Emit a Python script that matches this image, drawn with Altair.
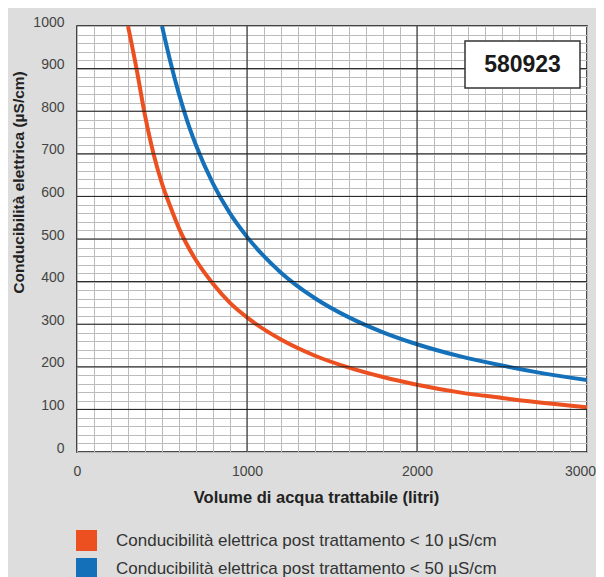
import altair as alt
import pandas as pd

# ---- data ----
vol_orange = [300, 350, 400, 450, 500, 550, 600, 700, 800, 900, 1000, 1200, 1400,
              1600, 1800, 2000, 2250, 2500, 2750, 3000]
cond_orange = [1000, 900, 790, 700, 630, 575, 525, 450, 395, 350, 316, 264, 226,
               198, 176, 158, 140, 127, 115, 105]
vol_blue = [500, 550, 600, 650, 700, 800, 900, 1000, 1200, 1400, 1600, 1800, 2000,
            2250, 2500, 2750, 3000]
cond_blue = [1000, 915, 840, 775, 720, 630, 560, 505, 421, 361, 316, 281, 253,
             225, 203, 184, 169]
series_names = ["Conducibilità elettrica post trattamento < 10 µS/cm",
                "Conducibilità elettrica post trattamento < 50 µS/cm"]
series_colors = ["#EC5020", "#1470B8"]
x_minor = list(range(0, 3001, 100))
y_minor = list(range(0, 1001, 20))
x_major = [1000, 2000]
y_major = [100, 200, 300, 400, 500, 600, 700, 800, 900]
code_label = ["580923"]
x_title = "Volume di acqua trattabile (litri)"
y_title = "Conducibilità elettrica (µS/cm)"

FONT = "Liberation Sans"

df = pd.concat([
    pd.DataFrame({"vol": vol_orange, "cond": cond_orange, "series": series_names[0]}),
    pd.DataFrame({"vol": vol_blue, "cond": cond_blue, "series": series_names[1]}),
])

xscale = alt.Scale(domain=[0, 3000], nice=False, zero=False)
yscale = alt.Scale(domain=[0, 1000], nice=False, zero=False)
cscale = alt.Scale(domain=series_names, range=series_colors)

xaxis = alt.Axis(values=x_minor, grid=True, gridColor="#bcbcbc", gridWidth=1,
                 ticks=False, domain=False, labelOverlap=False, labelFlush=False,
                 format="d",
                 labelExpr="datum.value % 1000 == 0 ? datum.label : ''",
                 labelOffset={"condition": {"test": "datum.value == 3000", "value": -7},
                              "value": 0},
                 labelFont=FONT, labelFontSize=14, labelColor="#444444",
                 labelPadding=12, title=x_title, titleFont=FONT, titleFontSize=16.5,
                 titleFontWeight="bold", titleColor="#222222",
                 titleX=239, titleY=45, titleAlign="center", titleBaseline="middle")
yaxis = alt.Axis(values=y_minor, grid=True, gridColor="#bcbcbc", gridWidth=1,
                 ticks=False, domain=False, labelOverlap=False, labelFlush=False,
                 format="d",
                 labelExpr="datum.value % 100 == 0 ? datum.label : ''",
                 labelFont=FONT, labelFontSize=14, labelColor="#444444",
                 labelPadding=13, labelOffset=-4,
                 title=y_title, titleFont=FONT, titleFontSize=15.5,
                 titleFontWeight="bold", titleColor="#222222",
                 titleX=-59, titleY=156, titleAlign="center", titleBaseline="middle",
                 titleAngle=270)

lines = alt.Chart(df).mark_line(strokeWidth=4, clip=True, interpolate="monotone").encode(
    x=alt.X("vol:Q", scale=xscale, axis=xaxis),
    y=alt.Y("cond:Q", scale=yscale, axis=yaxis),
    color=alt.Color("series:N", scale=cscale, legend=None),
    detail="series:N",
)

vrules = alt.Chart(pd.DataFrame({"vol": x_major})).mark_rule(color="#1a1a1a", strokeWidth=1).encode(
    x=alt.X("vol:Q", scale=xscale, axis=xaxis))
hrules = alt.Chart(pd.DataFrame({"cond": y_major})).mark_rule(color="#1a1a1a", strokeWidth=1).encode(
    y=alt.Y("cond:Q", scale=yscale, axis=yaxis))

legend_src = alt.Chart(pd.DataFrame({"series": series_names})).mark_square(
    size=441, filled=True, clip=True).encode(
    x=alt.value(-200), y=alt.value(-200),
    color=alt.Color("series:N", scale=cscale, legend=alt.Legend(
        title=None, orient="none", legendX=-1, legendY=504, symbolType="square",
        symbolSize=441, symbolStrokeWidth=0, symbolOpacity=1, labelFont=FONT,
        labelFontSize=17, labelColor="#333333", labelOffset=19, rowPadding=7,
        padding=0, labelLimit=500)),
)

box_df = pd.DataFrame({"label": code_label})
box = alt.Chart(box_df).mark_rect(fill="white", stroke="#333333", strokeWidth=1.5).encode(
    x=alt.value(388), x2=alt.value(503), y=alt.value(15), y2=alt.value(62))
box_text = alt.Chart(box_df).mark_text(font=FONT, fontSize=23, fontWeight="bold",
                                       color="#1a1a1a", align="center",
                                       baseline="middle").encode(
    x=alt.value(445.5), y=alt.value(39), text="label:N")

chart = alt.layer(lines, vrules, hrules, legend_src, box, box_text).resolve_legend(
    color="independent").properties(
    width=510, height=426,
    autosize=alt.AutoSizeParams(type="none"),
    padding={"left": 69, "top": 18, "right": 9, "bottom": 125},
    background="#dcdddc",
).configure_view(stroke="#111111", strokeWidth=1.5, fill="white")

chart.save("out.html", embed_options={"renderer": "svg", "actions": False})
